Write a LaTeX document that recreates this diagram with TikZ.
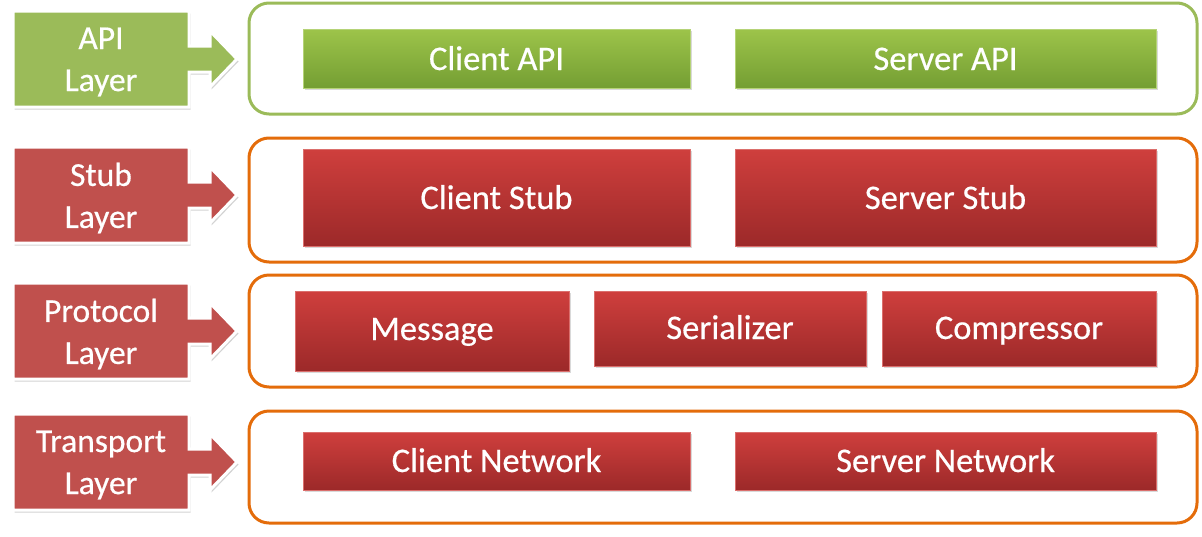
\documentclass[tikz,border=0pt]{standalone}
\usepackage{fontspec}
\setmainfont{Carlito}
\newfontfamily\calib{Carlito}[FakeBold=0.5]
\usetikzlibrary{shadows}
\definecolor{lgreen}{HTML}{9BBB59}
\definecolor{lred}{HTML}{C0504D}
\definecolor{gtop}{HTML}{9DC44A}
\definecolor{gbot}{HTML}{749E33}
\definecolor{rtop}{HTML}{CF3F3D}
\definecolor{rbot}{HTML}{9C2929}
\definecolor{orng}{HTML}{E46C0A}
\newcommand\labshape[2]{%
  \path[fill=#2, draw=white, line width=3pt, line join=miter,
        drop shadow={opacity=0.35, shadow xshift=1.5pt, shadow yshift=-2.5pt}]
    (13,{#1-48}) -- (189,{#1-48}) -- (189,{#1-13}) -- (210,{#1-13}) -- (210,{#1-28})
    -- (237,#1) -- (210,{#1+28}) -- (210,{#1+13}) -- (189,{#1+13}) -- (189,{#1+48})
    -- (13,{#1+48}) -- cycle;}
\begin{document}
\begin{tikzpicture}[x=1pt,y=-1pt,
  every node/.style={font=\calib\fontsize{34.5}{42}\selectfont, text=white, inner sep=0pt},
  txt/.style={text height=22pt, text depth=0pt},
  container/.style={draw=#1, line width=3pt, rounded corners=20pt},
  inbox/.style={draw=#1top!75!white, line width=0.8pt,
     drop shadow={opacity=0.3, shadow xshift=1.5pt, shadow yshift=-2pt}},
  gbox/.style={inbox=g, top color=gtop, bottom color=gbot},
  rbox/.style={inbox=r, top color=rtop, bottom color=rbot},
  lab/.style={align=center, font=\calib\fontsize{33.5}{42}\selectfont}]
\useasboundingbox (0,0) rectangle (1202,536);
% containers
\draw[container=lgreen] (249,3) rectangle (1197,114);
\draw[container=orng] (249,138) rectangle (1197,262);
\draw[container=orng] (249,275) rectangle (1197,387);
\draw[container=orng] (249,411) rectangle (1197,523);
% layer labels
\labshape{59}{lgreen}
\node[lab] (lapi) at (101,62) {API\\Layer};
\labshape{195}{lred}
\node[lab] (lstub) at (101,198) {Stub\\Layer};
\labshape{331}{lred}
\node[lab] (lproto) at (101,334) {Protocol\\Layer};
\labshape{462}{lred}
\node[lab] (ltrans) at (101,465) {Transport\\Layer};
% inner boxes
\path[gbox] (303,29) rectangle (690,88);
\node[txt] (capi) at (496.5,59) {Client API};
\path[gbox] (735,29) rectangle (1156,88);
\node[txt] (sapi) at (945.5,59) {Server API};
\path[rbox] (303,149) rectangle (690,246);
\node[txt] (cstub) at (496.5,198) {Client Stub};
\path[rbox] (735,149) rectangle (1156,246);
\node[txt] (sstub) at (945.5,198) {Server Stub};
\path[rbox] (295,291) rectangle (569,371);
\node[txt] (msg) at (432,329) {Message};
\path[rbox] (594,291) rectangle (866,366);
\node[txt] (ser) at (730,328) {Serializer};
\path[rbox] (882,291) rectangle (1156,366);
\node[txt] (comp) at (1019,328) {Compressor};
\path[rbox] (303,432) rectangle (690,490);
\node[txt] (cnet) at (496.5,461) {Client Network};
\path[rbox] (735,432) rectangle (1156,490);
\node[txt] (snet) at (945.5,461) {Server Network};
\end{tikzpicture}
\end{document}
